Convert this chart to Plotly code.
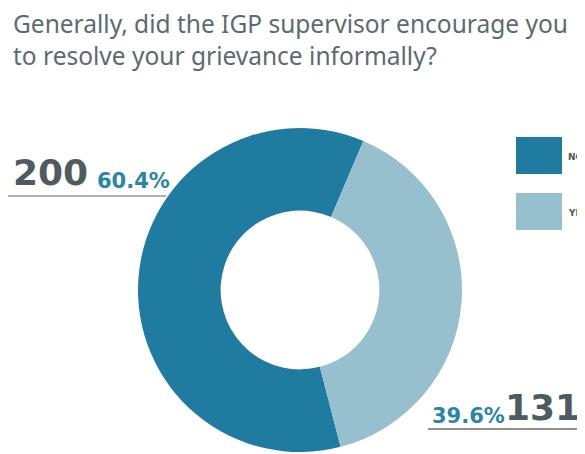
import plotly.graph_objects as go

labels = ["NO", "YES"]
counts = [200, 131]
percents = ["60.4%", "39.6%"]
colors = ["#1F7B9F", "#97C0CF"]
title_lines = ["Generally, did the IGP supervisor encourage you", "to resolve your grievance informally?"]

# page has an 8px body margin, so draw in a slightly smaller figure and offset
OFF = 8
W, H = 585 - OFF, 454 - OFF

def px_x(x):
    return (x - OFF) / W

def px_y(y):
    return 1 - (y - OFF) / H

cx, cy, r = 300, 290, 162

fig = go.Figure(go.Pie(
    labels=labels, values=counts, hole=0.49, sort=False, direction="clockwise",
    rotation=165.5, marker=dict(colors=colors, line=dict(width=0)),
    textinfo="none", hoverinfo="label+value+percent", showlegend=False,
    domain=dict(x=[px_x(cx - r), px_x(cx + r)], y=[max(0, px_y(cy + r)), px_y(cy - r)]),
))

ann = []
ann.append(dict(x=px_x(11), y=px_y(5), xref="paper", yref="paper", xanchor="left", yanchor="top",
                text=title_lines[0] + "<br>" + title_lines[1], showarrow=False, align="left",
                font=dict(family="Noto Sans", size=24.5, color="#5C6B6F")))

big_font = dict(family="DejaVu Sans", size=36, color="#4E5B5F", weight="bold")
pct_font = dict(family="DejaVu Sans", size=21, color="#2A86A8", weight="bold")

# top-left label: NO
ann.append(dict(x=px_x(11), y=px_y(195), xref="paper", yref="paper", xanchor="left", yanchor="bottom",
                text="<b>%d</b>" % counts[0], showarrow=False, font=big_font))
ann.append(dict(x=px_x(95), y=px_y(195), xref="paper", yref="paper", xanchor="left", yanchor="bottom",
                text="<b>%s</b>" % percents[0], showarrow=False, font=pct_font))
# bottom-right label: YES
ann.append(dict(x=px_x(503), y=px_y(430), xref="paper", yref="paper", xanchor="left", yanchor="bottom",
                text="<b>%d</b>" % counts[1], showarrow=False, font=big_font))
ann.append(dict(x=px_x(507), y=px_y(430), xref="paper", yref="paper", xanchor="right", yanchor="bottom",
                text="<b>%s</b>" % percents[1], showarrow=False, font=pct_font))

shapes = [
    dict(type="line", xref="paper", yref="paper", x0=px_x(8), x1=px_x(166), y0=px_y(196), y1=px_y(196),
         line=dict(color="#AFAFAF", width=2)),
    dict(type="line", xref="paper", yref="paper", x0=px_x(428), x1=px_x(582), y0=px_y(429), y1=px_y(429),
         line=dict(color="#8F8F8F", width=2)),
]

# custom legend
for i, (lab, col) in enumerate(zip(labels, colors)):
    y0 = 137 + i * 56
    shapes.append(dict(type="rect", xref="paper", yref="paper", x0=px_x(516), x1=px_x(562),
                       y0=px_y(y0), y1=px_y(y0 + 37), fillcolor=col, line=dict(width=0)))
    ann.append(dict(x=px_x(566), y=px_y(y0 + 20), xref="paper", yref="paper", xanchor="left", yanchor="middle",
                    text="<b>%s</b>" % lab, showarrow=False,
                    font=dict(family="DejaVu Sans", size=9, color="#555555")))

fig.update_layout(width=W, height=H, margin=dict(l=0, r=0, t=0, b=0),
                  paper_bgcolor="white", plot_bgcolor="white",
                  annotations=ann, shapes=shapes, showlegend=False)

fig.write_html("out.html")
